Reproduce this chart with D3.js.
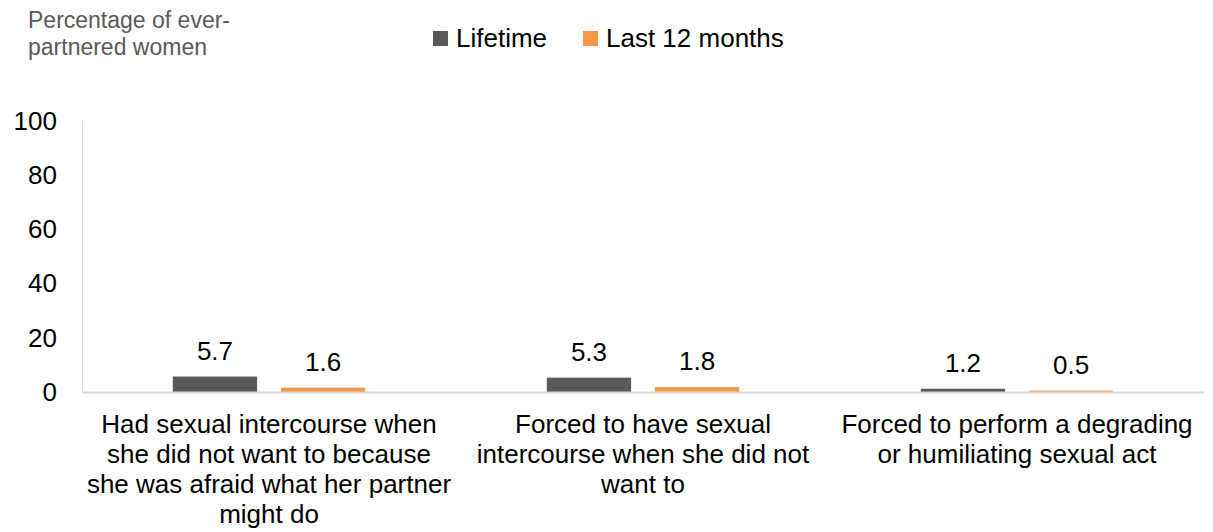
<!DOCTYPE html>
<html>
<head>
<meta charset="utf-8">
<script src="https://cdnjs.cloudflare.com/ajax/libs/d3/7.8.5/d3.min.js"></script>
<style>
  body { margin: 0; background: #fff; }
  svg { display: block; font-family: "Liberation Sans", Arial, sans-serif; }
</style>
</head>
<body>
<div class="content"></div>
<script>
  var categories = [
    "Had sexual intercourse when\nshe did not want to because\nshe was afraid what her partner\nmight do",
    "Forced to have sexual\nintercourse when she did not\nwant to",
    "Forced to perform a degrading\nor humiliating sexual act"
  ];
  var series = ["Lifetime", "Last 12 months"];
  var lifetime = [5.7, 5.3, 1.2];
  var last12 = [1.6, 1.8, 0.5];
  var yTicks = [0, 20, 40, 60, 80, 100];
  var colors = ["#595959", "#F79646"];

  var width = 1213, height = 532;
  var plotLeft = 82, plotRight = 1204, plotTop = 121, plotBottom = 392;

  var svg = d3.select(".content").append("svg")
      .attr("width", width)
      .attr("height", height);

  var x0 = d3.scaleBand()
      .domain(categories)
      .range([plotLeft, plotRight])
      .padding(0);

  var x1 = d3.scaleBand()
      .domain(series)
      .range([0, x0.bandwidth()])
      .paddingInner(0.22)
      .paddingOuter(0.84);

  var y = d3.scaleLinear()
      .domain([0, 100])
      .range([plotBottom, plotTop]);

  // y axis: labels only, plus a light vertical line
  var yAxis = svg.append("g")
      .attr("transform", "translate(" + (plotLeft - 25) + ",0)")
      .call(d3.axisLeft(y).tickValues(yTicks).tickSize(0).tickPadding(0));
  yAxis.select(".domain").remove();
  yAxis.selectAll("text")
      .attr("font-size", "26px")
      .attr("font-family", "Liberation Sans, Arial, sans-serif")
      .attr("fill", "#000");

  svg.append("line")
      .attr("x1", plotLeft + 0.5).attr("x2", plotLeft + 0.5)
      .attr("y1", y(100)).attr("y2", y(0))
      .attr("stroke", "#d9d9d9").attr("stroke-width", 1);

  var rows = categories.map(function(c, i) {
    return { cat: c, values: [lifetime[i], last12[i]] };
  });

  var group = svg.selectAll(".group")
      .data(rows)
      .enter().append("g")
      .attr("class", "group")
      .attr("transform", function(d) { return "translate(" + x0(d.cat) + ",0)"; });

  group.selectAll("rect")
      .data(function(d) { return d.values.map(function(v, j) { return { s: series[j], v: v, j: j }; }); })
      .enter().append("rect")
      .attr("x", function(d) { return x1(d.s); })
      .attr("y", function(d) { return y(d.v); })
      .attr("width", x1.bandwidth())
      .attr("height", function(d) { return y(0) - y(d.v); })
      .attr("fill", function(d) { return colors[d.j]; });

  group.selectAll(".val")
      .data(function(d) { return d.values.map(function(v, j) { return { s: series[j], v: v }; }); })
      .enter().append("text")
      .attr("class", "val")
      .attr("x", function(d) { return x1(d.s) + x1.bandwidth() / 2; })
      .attr("y", function(d) { return y(d.v) - 17; })
      .attr("text-anchor", "middle")
      .attr("font-size", "26px")
      .attr("fill", "#000")
      .text(function(d) { return d3.format(".1f")(d.v); });

  // x axis baseline
  svg.append("line")
      .attr("x1", plotLeft).attr("x2", plotRight)
      .attr("y1", y(0) + 0.5).attr("y2", y(0) + 0.5)
      .attr("stroke", "#d9d9d9").attr("stroke-width", 2);

  // category labels
  var catLabel = svg.selectAll(".cat")
      .data(categories)
      .enter().append("text")
      .attr("class", "cat")
      .attr("text-anchor", "middle")
      .attr("font-size", "26px")
      .attr("fill", "#000");
  catLabel.selectAll("tspan")
      .data(function(d) { return d.split("\n").map(function(t) { return { t: t, c: d }; }); })
      .enter().append("tspan")
      .attr("x", function(d) { return x0(d.c) + x0.bandwidth() / 2; })
      .attr("y", function(d, i) { return 433 + i * 30; })
      .text(function(d) { return d.t; });

  // title
  var title = svg.append("text")
      .attr("font-size", "23px")
      .attr("fill", "#595959");
  title.append("tspan").attr("x", 28).attr("y", 28).text("Percentage of ever-");
  title.append("tspan").attr("x", 28).attr("y", 55).text("partnered women");

  // legend
  var legendX = [433, 583];
  var legend = svg.selectAll(".legend")
      .data(series)
      .enter().append("g")
      .attr("class", "legend")
      .attr("transform", function(d, i) { return "translate(" + legendX[i] + ",31)"; });
  legend.append("rect")
      .attr("width", 15).attr("height", 15)
      .attr("fill", function(d, i) { return colors[i]; });
  legend.append("text")
      .attr("x", 23).attr("y", 16)
      .attr("font-size", "26px")
      .attr("fill", "#000")
      .text(function(d) { return d; });
</script>
</body>
</html>
